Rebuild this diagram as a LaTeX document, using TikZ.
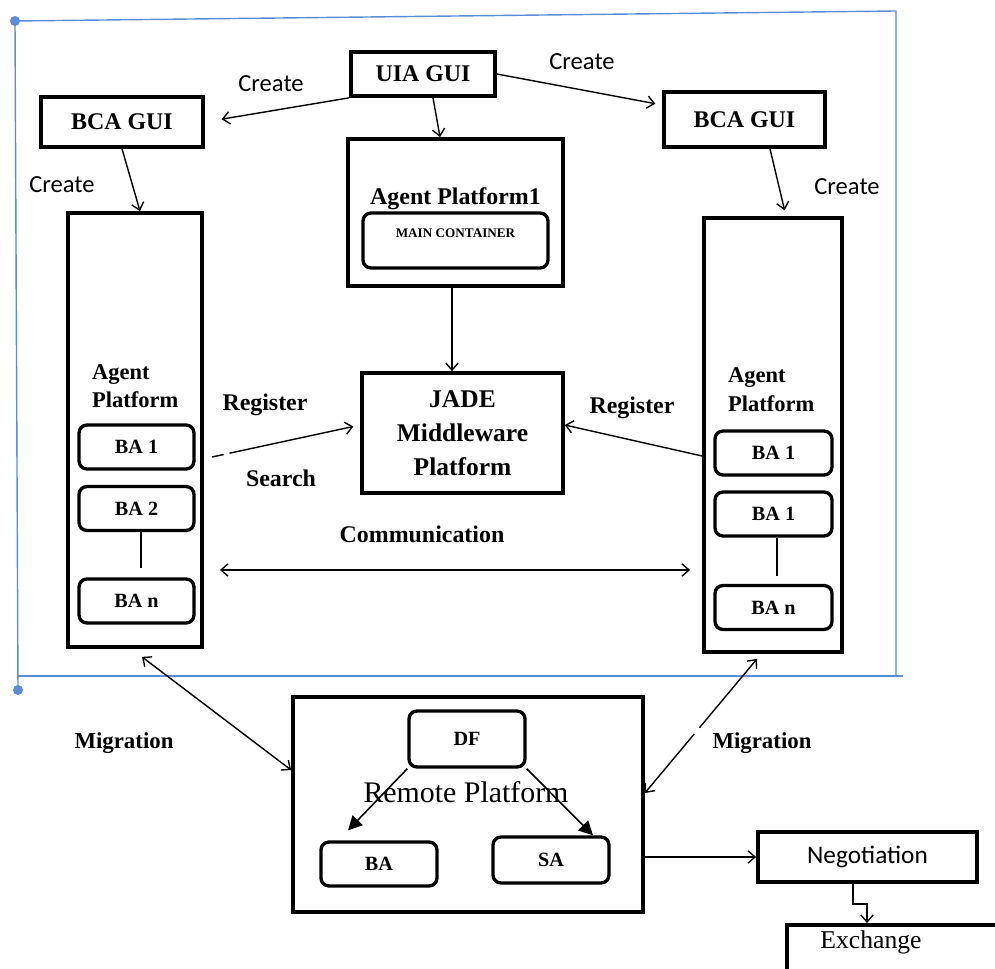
\documentclass[tikz,border=0pt]{standalone}
\usepackage{fontspec}
\setmainfont{Liberation Serif}
\newfontfamily\calibri{Carlito}
\usepackage{xcolor}
\usetikzlibrary{arrows.meta,positioning,calc}
\definecolor{framecol}{RGB}{91,141,213}

\begin{document}
\begin{tikzpicture}[
    x=0.02cm, y=-0.02cm,
    gui/.style={rectangle, draw, line width=2.1pt, inner sep=0pt, font=\bfseries\fontsize{13.6}{16}\selectfont},
    platform/.style={rectangle, draw, line width=2.2pt, inner sep=0pt},
    agent/.style={rectangle, rounded corners=0.16cm, draw, line width=1.9pt, minimum width=2.3cm, minimum height=0.88cm, inner sep=0pt, font=\bfseries\fontsize{11.5}{14}\selectfont},
    arrow/.style={-{Straight Barb[length=4pt,width=7pt]}, line width=0.8pt},
    dblarrow/.style={{Straight Barb[length=4pt,width=7pt]}-{Straight Barb[length=4pt,width=7pt]}, line width=0.8pt},
    fillarrow/.style={-{Triangle[length=8pt,width=8pt]}, line width=0.9pt},
    txt/.style={font=\bfseries\fontsize{13.6}{16}\selectfont},
    note/.style={font=\calibri\fontsize{14}{17}\selectfont},
    frame/.style={draw=framecol, line width=0.8pt}
]
    \clip (0,0) rectangle (995,969);

    % Frame
    \draw[frame] (15,21) -- (896,11) -- (896,677);
    \draw[frame] (15,21) -- (18,690);
    \draw[frame] (18,676) -- (903,676);
    \fill[framecol] (15,21) circle (0.1cm);
    \fill[framecol] (18,690) circle (0.1cm);

    % GUIs
    \node[gui, minimum width=2.88cm, minimum height=0.88cm] (uia) at (423,74) {UIA GUI};
    \node[gui, minimum width=3.24cm, minimum height=1cm] (bcal) at (122,122) {BCA GUI};
    \node[gui, minimum width=3.22cm, minimum height=1.1cm] (bcar) at (744.5,119.5) {BCA GUI};

    % Main platform
    \node[platform, minimum width=4.3cm, minimum height=2.94cm] (ap1) at (455.5,212.5) {};
    \node[txt] (ap1lbl) at (455.5,199) {Agent Platform1};
    \node[agent, minimum width=3.7cm, minimum height=1.1cm] (mc) at (455.5,240.5) {};
    \node[font=\bfseries\fontsize{7.5}{9}\selectfont] (mclbl) at (455.5,233) {MAIN CONTAINER};

    % JADE
    \node[gui, minimum width=4.02cm, minimum height=2.4cm, align=center, font=\bfseries\fontsize{14.5}{19.5}\selectfont] (jade) at (462.5,433) {JADE\\Middleware\\Platform};

    % Agent platforms
    \node[platform, minimum width=2.68cm, minimum height=8.68cm] (apl) at (135,430) {};
    \node[platform, minimum width=2.76cm, minimum height=8.68cm] (apr) at (773,435) {};
    \node[txt, anchor=west, align=left, font=\bfseries\fontsize{12.8}{16}\selectfont] (apllbl) at (86,386) {Agent\\Platform};
    \node[txt, anchor=west, align=left, font=\bfseries\fontsize{12.8}{16.4}\selectfont] (aprlbl) at (722,390) {Agent\\Platform};

    % Buyer agents
    \node[agent] (lba1) at (136.5,447) {BA 1};
    \node[agent] (lba2) at (136.5,508.5) {BA 2};
    \node[agent] (lban) at (136.5,601) {BA n};
    \node[agent, minimum width=2.34cm] (rba1) at (773.5,453) {BA 1};
    \node[agent, minimum width=2.34cm] (rba2) at (773.5,514) {BA 1};
    \node[agent, minimum width=2.34cm] (rban) at (773.5,607.5) {BA n};
    \draw[line width=0.8pt] ([xshift=0.09cm]lba2.south) -- ([xshift=0.09cm,yshift=0.18cm]lban.north);
    \draw[line width=0.8pt] ([xshift=0.07cm]rba2.south) -- ([xshift=0.07cm,yshift=0.16cm]rban.north);

    % Remote platform
    \node[platform, minimum width=7cm, minimum height=4.3cm] (remote) at (468,804.5) {};
    \node[font=\fontsize{17}{20}\selectfont] (rplbl) at (466,792) {Remote Platform};
    \node[agent, minimum width=2.32cm, minimum height=1.12cm] (df) at (467,739) {DF};
    \node[agent, minimum width=2.32cm] (rba) at (379,864) {BA};
    \node[agent, minimum width=2.32cm, minimum height=0.92cm] (sa) at (551,860) {SA};

    % Negotiation and exchange
    \node[platform, minimum width=4.38cm, minimum height=1cm, font=\calibri\fontsize{14.4}{17}\selectfont] (neg) at (867.5,857) {Negotiation};
    \node[platform, minimum width=4.46cm, minimum height=1.5cm] (exch) at (898.5,962.5) {};
    \node[font=\fontsize{14.6}{17}\selectfont] (exchlbl) at (871,942) {Exchange};

    % Labels
    \node[note] (c1) at (271,84) {Create};
    \node[note] (c2) at (582,62) {Create};
    \node[note] (c3) at (62,185) {Create};
    \node[note] (c4) at (847,187) {Create};
    \node[txt] (regl) at (265,405) {Register};
    \node[txt] (srch) at (281,478) {Search};
    \node[txt] (regr) at (632,408) {Register};
    \node[txt] (comm) at (422,534) {Communication};
    \node[txt, font=\bfseries\fontsize{13}{16}\selectfont] (migl) at (124,743) {Migration};
    \node[txt, font=\bfseries\fontsize{13}{16}\selectfont] (migr) at (762,743) {Migration};

    % Create arrows
    \draw[arrow, shorten >=0.34cm] (uia.south west) -- (bcal.east);
    \draw[arrow, shorten >=0.14cm] (uia.east) -- (bcar.170);
    \draw[arrow] ([xshift=0.2cm]uia.south) -- ([xshift=-0.31cm]ap1.north);
    \draw[arrow] (bcal.south) -- ([xshift=0.1cm]apl.north);
    \draw[arrow, shorten >=0.12cm] ([xshift=0.51cm]bcar.south) -- ([xshift=0.26cm]apr.north);
    \draw[arrow] ([xshift=-0.07cm]ap1.south) -- ([xshift=-0.07cm]ap1.south |- jade.north);

    % Register / search
    \coordinate (regL) at (212,457);
    \draw[arrow, shorten >=0.14cm, dash pattern=on 0.24cm off 0.12cm on 5cm] (regL) -- ([yshift=0.16cm]jade.west);
    \draw[arrow] ([yshift=-0.42cm]apr.west) -- ([yshift=0.16cm]jade.east);

    % Communication
    \draw[dblarrow, shorten <=0.32cm, shorten >=0.24cm] (apl.east |- 0,570) -- (apr.west |- 0,570);

    % Migration
    \draw[dblarrow] ([xshift=0.14cm,yshift=-0.16cm]apl.south) -- ([yshift=0.69cm]remote.west);
    \draw[dblarrow, dash pattern=on 1.76cm off 0.16cm on 5cm] ([xshift=-0.32cm,yshift=-0.1cm]apr.south) -- ([yshift=0.23cm]remote.east);

    % Remote platform internals
    \draw[fillarrow] (df.south west) -- ([xshift=-0.62cm,yshift=0.2cm]rba.north);
    \draw[fillarrow] (df.south east) -- ([xshift=0.84cm]sa.north);

    % To negotiation and exchange
    \draw[arrow] (remote.east |- neg.west) -- (neg.west);
    \draw[arrow] ([xshift=-0.29cm]neg.south) -- ++(0,20) -| ([xshift=-0.63cm]exch.north);
\end{tikzpicture}
\end{document}
